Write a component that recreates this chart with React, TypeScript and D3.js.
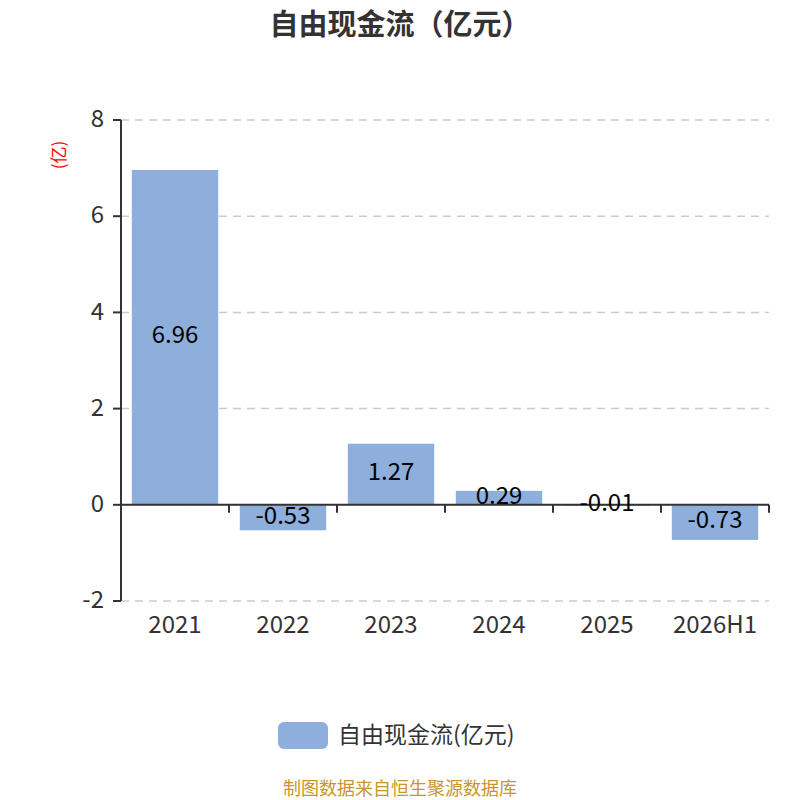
import { useEffect, useRef } from "react";
import * as d3 from "d3";

const categories = ["2021", "2022", "2023", "2024", "2025", "2026H1"];
const values = [6.96, -0.53, 1.27, 0.29, -0.01, -0.73];
const yTicks = [-2, 0, 2, 4, 6, 8];

const FONT = "'Noto Sans CJK SC', 'Noto Sans', sans-serif";
const BAR = "#8eaedb";

export default function App() {
    const svgRef = useRef<SVGSVGElement>(null);

    useEffect(() => {
        if (!svgRef.current) return;
        const svg = d3.select(svgRef.current);
        svg.selectAll("*").remove();

        const left = 121, right = 769, top = 120, bottom = 601;
        const x = d3.scaleBand().domain(categories).range([left, right]).paddingInner(0.2).paddingOuter(0.1);
        const y = d3.scaleLinear().domain([-2, 8]).range([bottom, top]);
        const step = x.step();

        // title
        svg.append("text").attr("x", 400).attr("y", 35).attr("text-anchor", "middle")
            .attr("font-family", FONT).attr("font-size", "29px").attr("font-weight", 700)
            .attr("fill", "#333").text("自由现金流（亿元）");

        // gridlines
        yTicks.forEach(t => {
            svg.append("line").attr("x1", left).attr("x2", right)
                .attr("y1", y(t)).attr("y2", y(t))
                .attr("stroke", "#ccc").attr("stroke-width", 1.5).attr("stroke-dasharray", "8,6");
        });

        // bars
        categories.forEach((c, i) => {
            const v = values[i];
            const y0 = y(0), y1 = y(v);
            const h = Math.max(Math.abs(y1 - y0), 1);
            svg.append("rect")
                .attr("x", x(c)!).attr("width", x.bandwidth())
                .attr("y", Math.min(y0, y1)).attr("height", h)
                .attr("fill", BAR);
        });

        // y axis
        svg.append("line").attr("x1", left).attr("x2", left).attr("y1", top).attr("y2", bottom)
            .attr("stroke", "#333").attr("stroke-width", 2);
        yTicks.forEach(t => {
            svg.append("line").attr("x1", left - 8).attr("x2", left).attr("y1", y(t)).attr("y2", y(t))
                .attr("stroke", "#333").attr("stroke-width", 2);
            svg.append("text").attr("x", 104).attr("y", y(t)).attr("dy", "0.3em")
                .attr("text-anchor", "end").attr("font-family", FONT).attr("font-size", "24px")
                .attr("fill", "#333").text(String(t));
        });

        // x axis at zero
        svg.append("line").attr("x1", left).attr("x2", right).attr("y1", y(0)).attr("y2", y(0))
            .attr("stroke", "#333").attr("stroke-width", 2);
        categories.forEach((c, i) => {
            const bx = left + step * (i + 1);
            svg.append("line").attr("x1", bx).attr("x2", bx).attr("y1", y(0)).attr("y2", y(0) + 8)
                .attr("stroke", "#333").attr("stroke-width", 2);
            svg.append("text").attr("x", x(c)! + x.bandwidth() / 2).attr("y", 626).attr("dy", "0.3em")
                .attr("text-anchor", "middle").attr("font-family", FONT).attr("font-size", "24px")
                .attr("fill", "#333").text(c);
        });

        // value labels
        categories.forEach((c, i) => {
            const v = values[i];
            svg.append("text").attr("x", x(c)! + x.bandwidth() / 2).attr("y", (y(0) + y(v)) / 2)
                .attr("dy", "0.25em").attr("text-anchor", "middle").attr("font-family", FONT)
                .attr("font-size", "24px").attr("fill", "#000").text(v.toFixed(2));
        });

        // y unit label
        svg.append("text").attr("transform", `translate(59,155) rotate(-90)`)
            .attr("text-anchor", "middle").attr("dy", "0.35em").attr("font-family", FONT)
            .attr("font-size", "17px").attr("fill", "red").text("(亿)");

        // legend
        svg.append("rect").attr("x", 278).attr("y", 722).attr("width", 50).attr("height", 27).attr("rx", 6)
            .attr("fill", BAR);
        svg.append("text").attr("x", 338).attr("y", 735).attr("dy", "0.35em").attr("font-family", FONT)
            .attr("font-size", "23px").attr("fill", "#333").text("自由现金流(亿元)");

        // source
        svg.append("text").attr("x", 400).attr("y", 789).attr("dy", "0.35em").attr("text-anchor", "middle")
            .attr("font-family", FONT).attr("font-size", "18px").attr("fill", "#c8962b").text("制图数据来自恒生聚源数据库");
    }, []);

    return (
        <svg ref={svgRef} width={800} height={800}
            style={{ position: "absolute", left: 0, top: 0, background: "#fff" }} />
    );
}
